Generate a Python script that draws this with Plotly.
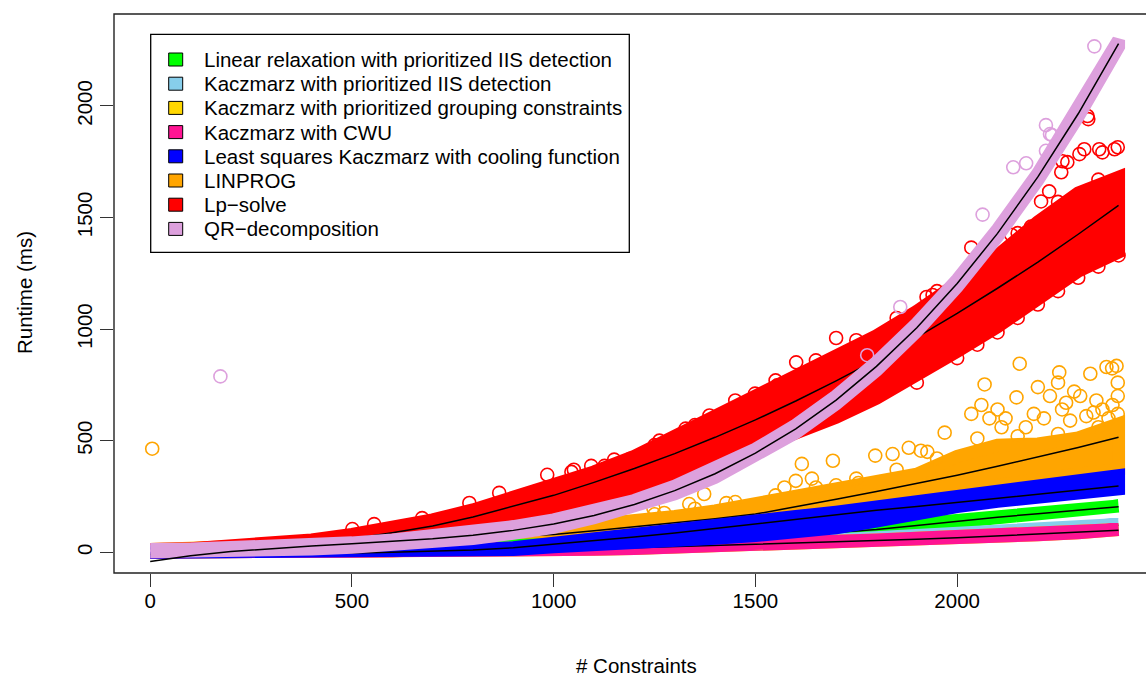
import plotly.graph_objects as go

# ---------------- data ----------------
x_grid = [0, 100, 200, 300, 400, 500, 600, 700, 800, 900, 1000, 1100, 1200,
          1300, 1400, 1500, 1600, 1700, 1800, 1900, 2000, 2100, 2200, 2300, 2400]

series_names = [
    "Linear relaxation with prioritized IIS detection",
    "Kaczmarz with prioritized IIS detection",
    "Kaczmarz with prioritized grouping constraints",
    "Kaczmarz with CWU",
    "Least squares Kaczmarz with cooling function",
    "LINPROG",
    "Lp\u2212solve",
    "QR\u2212decomposition",
]
series_colors = ["#00FF00", "#87CEEB", "#FFD700", "#FF1493",
                 "#0000FF", "#FFA500", "#FF0000", "#DDA0DD"]

# lower / upper edge of the dense cloud of points, and the fitted curve
green_lo = [0, 0, 2, 5, 7, 10, 13, 16, 20, 24, 29, 34, 40, 47, 54, 63, 73, 85, 99, 117, 137, 154, 170, 186, 201]
green_hi = [3, 6, 8, 11, 13, 16, 19, 22, 26, 30, 35, 40, 46, 53, 60, 69, 79, 91, 105, 123, 143, 160, 176, 192, 207]
green_fit = [0, 3, 5, 8, 10, 13, 16, 19, 23, 27, 32, 37, 43, 50, 57, 66, 76, 88, 102, 120, 140, 157, 173, 189, 204]

sky_lo = [0, 0, 0, 0, 0, 0, 2, 4, 6, 8, 11, 14, 18, 23, 28, 33, 40, 47, 55, 64, 73, 83, 94, 106, 118]
sky_hi = [1, 1, 1, 2, 4, 6, 8, 10, 12, 14, 17, 20, 24, 29, 34, 39, 46, 53, 61, 70, 79, 89, 100, 112, 124]
sky_fit = [-3, -3, -2, -1, 1, 3, 5, 7, 9, 11, 14, 17, 21, 26, 31, 36, 43, 50, 58, 67, 76, 86, 97, 109, 121]

gold_lo = [0, 0, 0, 0, 0, 0, 1, 3, 5, 7, 9, 13, 17, 22, 27, 32, 38, 43, 49, 55, 62, 70, 78, 87, 96]
gold_hi = [2, 2, 2, 2, 3, 4, 6, 8, 10, 13, 15, 19, 23, 28, 33, 38, 44, 49, 55, 61, 68, 76, 84, 93, 102]
gold_fit = [-6, -5, -4, -3, -2, 0, 2, 4, 6, 8, 10, 13, 17, 21, 26, 31, 36, 41, 47, 53, 59, 66, 74, 83, 92]

pink_lo = [0, 0, 0, 0, 0, 0, 1, 3, 5, 7, 9, 13, 17, 22, 27, 32, 38, 43, 49, 55, 62, 70, 78, 87, 96]
pink_hi = [2, 2, 2, 2, 3, 4, 6, 8, 10, 13, 15, 19, 23, 28, 33, 38, 44, 49, 55, 61, 68, 76, 84, 93, 102]
pink_fit = [-5, -4, -3, -2, 0, 2, 4, 6, 8, 10, 12, 16, 20, 25, 30, 35, 41, 46, 52, 58, 65, 73, 81, 90, 99]

blue_lo = [0, 0, 0, 0, 0, 1, 2, 3, 5, 12, 25, 32, 42, 52, 63, 75, 90, 110, 140, 175, 205, 228, 250, 268, 284]
blue_hi = [2, 2, 3, 3, 4, 5, 6, 8, 11, 20, 42, 56, 74, 94, 116, 138, 160, 180, 202, 226, 248, 270, 294, 318, 343]
blue_fit = [-10, -9, -8, -7, -5, -3, 0, 4, 10, 20, 35, 50, 68, 86, 106, 128, 149, 168, 188, 205, 224, 242, 260, 279, 297]

orange_lo = [2, 4, 8, 12, 16, 20, 25, 30, 36, 42, 50, 60, 72, 85, 100, 115, 135, 155, 175, 200, 230, 300, 330, 350, 370]
orange_hi = [12, 18, 25, 33, 42, 52, 62, 72, 84, 96, 105, 120, 138, 160, 185, 215, 250, 285, 315, 350, 430, 480, 485, 512, 575]
orange_fit = [5, 11, 17, 24, 31, 38, 46, 54, 62, 71, 80, 96, 113, 131, 150, 171, 203, 237, 272, 308, 345, 385, 426, 469, 515]

red_lo = [0, 2, 5, 12, 22, 38, 55, 78, 105, 140, 180, 225, 275, 330, 395, 460, 530, 605, 690, 790, 900, 1010, 1140, 1260, 1345]
red_hi = [12, 16, 25, 38, 55, 80, 110, 145, 190, 240, 300, 360, 430, 510, 600, 700, 790, 880, 970, 1080, 1200, 1330, 1480, 1610, 1680]
red_fit = [3, 5, 10, 22, 40, 60, 87, 118, 158, 205, 255, 313, 375, 442, 515, 593, 678, 768, 863, 963, 1070, 1183, 1300, 1425, 1554]

lav_lo = [2, 3, 5, 8, 14, 22, 32, 45, 62, 85, 112, 155, 202, 262, 335, 428, 535, 665, 815, 990, 1190, 1415, 1668, 1952, 2265]
lav_hi = [12, 14, 18, 24, 32, 42, 55, 72, 92, 115, 145, 185, 232, 296, 372, 462, 570, 700, 852, 1025, 1222, 1447, 1698, 1982, 2295]
lav_fit = [-41, -16, 3, 17, 28, 38, 48, 60, 76, 98, 127, 165, 214, 276, 352, 444, 553, 682, 833, 1006, 1204, 1429, 1682, 1965, 2279]

# individual points lying on the ragged edges / outside the dense clouds
orange_out_x = [5, 1008, 1050, 1150, 1247, 1250, 1274, 1336, 1350, 1373, 1428, 1450, 1550, 1572,
                1600, 1640, 1615, 1650, 1692, 1700, 1750, 1755, 1797, 1840, 1850, 1880, 1910, 1926,
                1950, 1969, 2035, 2050, 2060, 2068, 2080, 2100, 2110, 2120, 2147, 2150, 2155, 2170,
                2190, 2200, 2215, 2230, 2250, 2250, 2253, 2260, 2270, 2280, 2290, 2305, 2320, 2330,
                2338, 2345, 2350, 2360, 2370, 2375, 2384, 2385, 2395, 2398, 2398, 2398]
orange_out_y = [464, 189, 130, 150, 198, 170, 176, 216, 195, 261, 220, 225, 255, 290,
                320, 330, 396, 290, 410, 300, 330, 310, 433, 440, 370, 468, 455, 450,
                420, 536, 620, 510, 660, 752, 600, 640, 560, 600, 694, 520, 845, 560,
                620, 740, 600, 700, 530, 760, 806, 640, 670, 590, 720, 700, 610, 800,
                626, 680, 560, 640, 830, 600, 824, 660, 835, 700, 760, 620]

red_out_x = [501, 555, 674, 791, 865, 984, 1044, 1050, 1093, 1126, 1150, 1190, 1250, 1262, 1327,
             1350, 1386, 1438, 1450, 1499, 1550, 1554, 1601, 1650, 1700, 1750, 1850, 1900, 1924,
             1939, 1950, 2000, 2035, 2050, 2050, 2100, 2134, 2150, 2150, 2183, 2200, 2208, 2228,
             2250, 2250, 2258, 2261, 2273, 2300, 2303, 2315, 2323, 2325, 2350, 2350, 2352, 2360,
             2390, 2398, 2400]
red_out_y = [104, 126, 153, 221, 266, 347, 360, 370, 387, 387, 415, 419, 480, 500, 554,
             570, 613, 626, 680, 711, 770, 748, 851, 860, 960, 950, 1050, 760, 1144,
             1153, 1170, 870, 1365, 1300, 930, 985, 1423, 1430, 1050, 1459, 1110, 1572, 1617,
             1570, 1170, 1703, 1752, 1748, 1230, 1784, 1806, 1955, 1941, 1670, 1280, 1806, 1792,
             1806, 1815, 1330]

lav_out_x = [174, 1777, 1859, 2063, 2139, 2171, 2220, 2220, 2230, 2235, 2340]
lav_out_y = [788, 883, 1099, 1513, 1725, 1743, 1799, 1914, 1874, 1869, 2267]

x_ticks = [0, 500, 1000, 1500, 2000]
y_ticks = [0, 500, 1000, 1500, 2000]

# ---------------- layout geometry ----------------
W, H = 1146, 678
L, R, T, B = 114, 0, 14, 105
PW = W - L - R
PH = H - T - B
FONT = "Liberation Sans, Arial, Helvetica, sans-serif"
FS = 20.5


def fx(px):
    return (px - L) / PW


def fy(py):
    return (H - B - py) / PH


bands = [
    (green_lo, green_hi, green_fit, None, None),
    (sky_lo, sky_hi, sky_fit, None, None),
    (gold_lo, gold_hi, gold_fit, None, None),
    (pink_lo, pink_hi, pink_fit, None, None),
    (blue_lo, blue_hi, blue_fit, None, None),
    (orange_lo, orange_hi, orange_fit, orange_out_x, orange_out_y),
    (red_lo, red_hi, red_fit, red_out_x, red_out_y),
    (lav_lo, lav_hi, lav_fit, lav_out_x, lav_out_y),
]
draw_order = [5, 6, 0, 1, 2, 3, 4, 7]

fig = go.Figure()
for i in draw_order:
    lo, hi, fit, ox, oy = bands[i]
    col = series_colors[i]
    fig.add_trace(go.Scatter(
        x=x_grid + x_grid[::-1], y=lo + hi[::-1],
        mode="lines", fill="toself", fillcolor=col,
        line=dict(color=col, width=13), hoverinfo="skip", showlegend=False))
    if ox:
        fig.add_trace(go.Scatter(
            x=ox, y=oy, mode="markers",
            marker=dict(symbol="circle-open", size=13, color=col,
                        line=dict(width=1.6, color=col)),
            showlegend=False))
    fig.add_trace(go.Scatter(
        x=x_grid, y=fit, mode="lines",
        line=dict(color="black", width=1.5), showlegend=False))

shapes = [
    # plot box (right side lies beyond the visible page)
    dict(type="rect", xref="paper", yref="paper", x0=0, y0=0, x1=1.02, y1=1,
         line=dict(color="#222", width=1.4), layer="above"),
    # legend frame
    dict(type="rect", xref="paper", yref="paper", x0=fx(150.7), x1=fx(629.3),
         y0=fy(252.3), y1=fy(34.3), line=dict(color="black", width=1.3),
         fillcolor="white", layer="above"),
]
annotations = []
for k, (name, col) in enumerate(zip(series_names, series_colors)):
    cy = 59.5 + k * 24.2
    shapes.append(dict(type="rect", xref="paper", yref="paper",
                       x0=fx(168.7), x1=fx(182.7), y0=fy(cy + 6.5), y1=fy(cy - 6.5),
                       fillcolor=col, line=dict(color="black", width=1), layer="above"))
    annotations.append(dict(xref="paper", yref="paper", x=fx(201.5), y=fy(cy),
                            xanchor="left", yanchor="middle", text=name, showarrow=False,
                            font=dict(family=FONT, size=FS, color="black")))

annotations.append(dict(xref="paper", yref="paper", x=fx(636), y=fy(665),
                        xanchor="center", yanchor="middle", text="# Constraints",
                        showarrow=False, font=dict(family=FONT, size=FS, color="black")))
annotations.append(dict(xref="paper", yref="paper", x=fx(24), y=fy(293),
                        xanchor="center", yanchor="middle", text="Runtime (ms)",
                        textangle=-90, showarrow=False,
                        font=dict(family=FONT, size=FS, color="black")))

axis_common = dict(showgrid=False, zeroline=False, showline=False, ticks="outside",
                   ticklen=13, tickwidth=1.3, tickcolor="#333",
                   tickfont=dict(family=FONT, size=FS, color="black"))

fig.update_layout(
    width=W, height=H,
    margin=dict(l=L, r=R, t=T, b=B, pad=0),
    paper_bgcolor="white", plot_bgcolor="white",
    showlegend=False,
    xaxis=dict(range=[-89.7, 2468], tickvals=x_ticks, ticktext=[str(v) for v in x_ticks],
               ticklabelstandoff=-4, **axis_common),
    yaxis=dict(range=[-93, 2412], tickvals=y_ticks, ticktext=[str(v) for v in y_ticks],
               tickangle=-90, ticklabelstandoff=0, **axis_common),
    shapes=shapes,
    annotations=annotations,
)

fig.write_html("out.html")
